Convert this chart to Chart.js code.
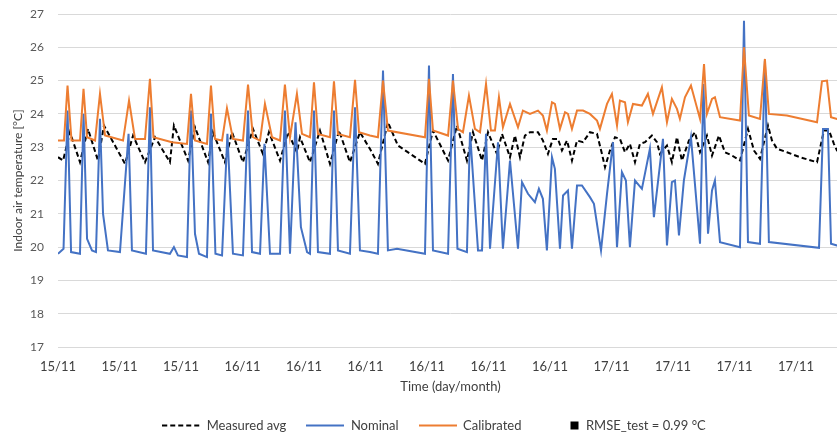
<!DOCTYPE html>
<html><head><meta charset="utf-8">
<script src="https://cdn.jsdelivr.net/npm/chart.js@4.4.1/dist/chart.umd.min.js"></script>
<style>html,body{margin:0;padding:0;overflow:hidden;background:#fff;width:837px;height:439px}
#wrap{width:868px;height:442px}</style></head>
<body><div id="wrap"><canvas id="c" width="868" height="442"></canvas></div>
<script>
// x values: hours since 15/11 12:00 (axis ticks every 4 h)
const tickLabels = ['15/11','15/11','15/11','16/11','16/11','16/11','16/11','16/11','16/11','17/11','17/11','17/11','17/11'];
const yTicks = [17,18,19,20,21,22,23,24,25,26,27];

const measuredX = [0.00,0.33,0.78,1.43,1.95,2.60,2.99,4.36,4.88,5.66,
 6.31,7.28,7.54,8.46,8.91,9.76,10.08,10.86,11.32,12.03,
 12.68,13.33,13.72,14.44,14.96,15.54,15.74,16.39,17.04,17.69,
 18.28,18.99,19.64,20.29,20.81,21.46,22.11,23.87,24.39,25.37,
 25.95,26.60,26.99,27.58,27.97,28.55,28.88,29.40,29.72,30.05,
 30.37,30.70,31.22,31.54,31.87,32.19,32.52,32.78,33.11,33.43,
 33.76,34.15,34.60,35.06,35.38,35.58,35.90,36.23,36.55,36.88,
 37.20,37.53,37.85,38.18,38.63,38.96,39.15,39.61,39.93,40.26,
 40.58,41.04,41.43,41.76,42.21,42.54,42.99,43.38,43.84,44.36,
 44.88,45.27,45.66,46.18,46.44,46.77,47.41,48.26,49.37,49.82,
 50.15,50.47,50.67,51.06];
const measuredY = [22.7,22.6,23.45,22.55,23.55,22.6,23.65,22.5,23.35,22.55,
 23.3,22.55,23.65,22.6,23.6,22.55,23.45,22.55,23.45,22.55,
 23.55,22.8,23.45,22.6,23.45,22.85,23.3,22.55,23.5,22.5,
 23.5,22.55,23.45,22.95,22.5,23.75,23.05,22.5,23.5,22.6,
 23.65,22.6,23.45,22.6,23.45,22.8,23.4,22.7,23.35,22.7,
 23.35,23.45,23.45,23.2,22.8,23.25,23.25,22.9,23.2,22.6,
 23.2,23.15,23.45,23.4,22.8,22.4,22.9,23.3,23.25,22.85,
 23.1,22.55,23.1,23.15,23.35,23.15,22.8,23.05,22.55,23.3,
 22.6,23.2,23.45,22.85,23.35,22.75,23.35,22.85,22.75,22.6,
 23.55,22.9,22.65,23.65,23.2,22.95,22.85,22.7,22.55,23.5,
 23.5,23.1,22.9,22.8];

const nominalX = [0.00,0.36,0.62,0.85,1.43,1.66,1.89,2.21,2.47,2.73,
 2.93,3.25,4.03,4.59,4.81,5.72,5.98,6.18,7.28,7.54,
 7.80,8.39,8.65,8.91,9.17,9.69,9.95,10.24,10.67,11.02,
 11.38,12.03,12.36,12.62,13.14,13.43,13.79,14.44,14.76,15.09,
 15.45,15.80,16.20,16.39,16.65,16.91,17.69,17.95,18.21,18.99,
 19.32,19.64,20.29,20.81,21.14,21.46,22.05,23.87,24.13,24.39,
 25.37,25.69,25.98,26.60,26.80,27.32,27.58,27.84,28.10,28.62,
 28.94,29.40,29.92,30.18,30.57,31.02,31.28,31.54,31.80,32.13,
 32.32,32.65,32.85,33.17,33.43,33.76,34.08,34.60,34.86,35.32,
 35.71,36.10,36.36,36.68,36.94,37.20,37.53,37.98,38.50,38.76,
 39.35,39.61,39.93,40.13,40.39,40.71,41.17,41.76,41.98,42.28,
 42.54,42.73,43.06,44.36,44.62,44.88,45.66,45.98,46.24,49.50,
 49.76,50.08,50.28,50.67,51.06];
const nominalY = [19.8,19.95,24.1,19.85,19.8,24.0,20.25,19.9,19.85,23.85,
 21.0,19.9,19.85,23.4,19.9,19.8,24.2,19.9,19.8,20.0,
 19.75,19.7,24.1,20.4,19.8,19.7,24.0,19.8,19.75,23.4,
 19.8,19.75,24.1,19.85,19.8,23.1,19.8,19.8,24.1,19.8,
 23.75,20.6,19.85,19.8,24.1,19.85,19.8,24.1,19.9,19.8,
 24.2,19.9,19.85,19.8,25.3,19.9,19.95,19.8,25.45,19.9,
 19.8,25.2,19.95,19.85,23.45,19.9,19.9,23.4,19.95,23.15,
 19.95,22.6,19.95,21.95,21.6,21.35,21.75,21.45,19.9,22.7,
 22.35,19.95,21.55,21.7,19.95,21.85,21.85,21.5,21.3,19.9,
 21.6,23.15,20.0,22.25,22.0,20.0,22.0,21.75,22.95,20.9,
 23.25,20.05,21.95,22.0,20.35,22.0,23.3,20.1,24.9,20.4,
 21.7,22.0,20.15,20.0,26.8,20.15,20.1,25.6,20.15,19.98,
 23.55,23.55,20.1,20.05,20.0];

const calibratedX = [0.00,0.39,0.62,0.88,1.43,1.66,1.89,2.41,2.73,3.06,
 4.23,4.62,5.01,5.66,5.98,6.21,7.41,8.39,8.65,8.91,
 9.69,9.95,10.21,10.67,10.99,11.38,12.03,12.36,12.68,13.14,
 13.46,13.92,14.44,14.76,15.09,15.54,15.87,16.39,16.65,16.91,
 17.69,17.95,18.21,18.99,19.32,19.58,20.29,20.81,21.14,21.46,
 23.87,24.13,24.39,25.37,25.69,26.02,26.34,26.73,27.12,27.45,
 27.84,28.16,28.42,28.68,28.94,29.40,29.92,30.24,30.70,31.22,
 31.54,31.80,32.13,32.32,32.65,32.98,33.17,33.43,33.76,34.15,
 34.60,35.06,35.25,35.71,36.03,36.36,36.55,36.88,37.07,37.40,
 37.98,38.37,38.70,39.28,39.61,39.93,40.26,40.45,40.78,41.17,
 41.76,42.02,42.21,42.54,42.73,43.06,44.36,44.62,44.94,45.66,
 45.98,46.24,47.41,49.37,49.69,50.02,50.28,50.67,51.06];
const calibratedY = [23.2,23.2,24.85,23.2,23.2,24.75,23.3,23.2,24.6,23.35,
 23.2,24.4,23.25,23.25,25.05,23.3,23.15,23.1,24.6,23.2,
 23.1,24.85,23.25,23.2,24.17,23.25,23.2,24.88,23.3,23.2,
 24.3,23.3,23.2,24.88,23.3,24.6,23.4,23.3,24.95,23.4,
 23.3,24.98,23.4,23.3,25.02,23.45,23.35,23.3,25.0,23.5,
 23.3,25.05,23.5,23.35,25.0,23.55,23.45,24.55,23.55,23.45,
 24.9,23.5,23.5,24.5,23.6,24.3,23.6,24.1,24.0,24.1,
 23.95,23.5,24.35,24.3,23.55,24.05,24.0,23.55,24.1,24.1,
 24.0,23.8,23.55,24.3,24.6,23.65,24.4,24.35,23.75,24.3,
 24.25,24.6,24.0,24.8,23.75,24.45,24.15,23.85,24.5,24.85,
 23.85,25.5,24.0,24.45,24.5,23.9,23.8,26.0,23.95,23.85,
 25.65,24.0,23.95,23.75,24.98,25.0,23.9,23.85,23.85];

const seriesNames = ['Measured avg','Nominal','Calibrated','RMSE_test = 0.99 °C'];

function zip(xs, ys){ return xs.map((x,i)=>({x:x, y:ys[i]})); }

function lineSwatch(color, dash){
  const c=document.createElement('canvas'); c.width=38; c.height=6;
  const g=c.getContext('2d'); g.strokeStyle=color; g.lineWidth=2; g.setLineDash(dash||[]);
  g.beginPath(); g.moveTo(0,3); g.lineTo(38,3); g.stroke(); return c;
}
function squareSwatch(){
  const c=document.createElement('canvas'); c.width=38; c.height=10;
  const g=c.getContext('2d'); g.fillStyle='#000'; g.fillRect(29,1,8,8); return c;
}
const swatches=[lineSwatch('#000',[5,3]), lineSwatch('#4472C4'), lineSwatch('#ED7D31'), squareSwatch()];

const txt='#595959';
new Chart(document.getElementById('c'), {
  type:'line',
  data:{datasets:[
    {label:seriesNames[0], data:zip(measuredX,measuredY), borderColor:'#000', backgroundColor:'#000', borderWidth:2, borderDash:[5,3], pointRadius:0, tension:0, order:3},
    {label:seriesNames[1], data:zip(nominalX,nominalY), borderColor:'#4472C4', backgroundColor:'#4472C4', borderWidth:2, pointRadius:0, tension:0, order:2},
    {label:seriesNames[2], data:zip(calibratedX,calibratedY), borderColor:'#ED7D31', backgroundColor:'#ED7D31', borderWidth:2, pointRadius:0, tension:0, order:1},
    {label:seriesNames[3], data:[], borderColor:'#000', backgroundColor:'#000', pointRadius:0, order:4}
  ]},
  options:{
    responsive:false, animation:false,
    layout:{padding:{left:0,right:0,top:14,bottom:0}},
    scales:{
      x:{type:'linear', min:0, max:51.06,
        afterFit(s){ s.height=52; },
        grid:{drawOnChartArea:false, drawTicks:false},
        border:{color:'#d9d9d9'},
        ticks:{stepSize:4, includeBounds:false, autoSkip:false, maxRotation:0, padding:12, color:'#404040',
          font:{family:'Lato', size:13}, callback:(v,i)=>tickLabels[i]},
        title:{display:true, text:'Time (day/month)', color:'#404040', font:{family:'Lato', size:13}, padding:{top:2,bottom:4}}
      },
      y:{min:yTicks[0], max:yTicks[yTicks.length-1],
        afterFit(s){ s.width=58; s.paddingTop=0; s.paddingBottom=0; },
        grid:{color:'#d9d9d9', drawTicks:false},
        border:{display:false},
        ticks:{stepSize:1, padding:14, color:txt, font:{family:'Lato', size:12}},
        title:{display:true, text:'Indoor air temperature [°C]', color:'#404040', font:{family:'Lato', size:12}, padding:{top:11,bottom:0}}
      },
      yRight:{position:'right', min:yTicks[0], max:yTicks[yTicks.length-1],
        afterFit(s){ s.width=25; s.paddingTop=0; s.paddingBottom=0; },
        grid:{display:false}, border:{display:false}, ticks:{display:false}
      }
    },
    plugins:{
      tooltip:{enabled:false},
      legend:{position:'bottom',
        labels:{usePointStyle:true, pointStyleWidth:38, padding:20, color:'#404040', font:{family:'Lato', size:13},
          sort:(a,b)=>a.datasetIndex-b.datasetIndex,
          generateLabels(chart){
            const items=Chart.defaults.plugins.legend.labels.generateLabels(chart);
            items.forEach(it=>{ it.pointStyle=swatches[it.datasetIndex]; });
            return items;
          }}
      }
    }
  }
});
</script>
</body></html>
